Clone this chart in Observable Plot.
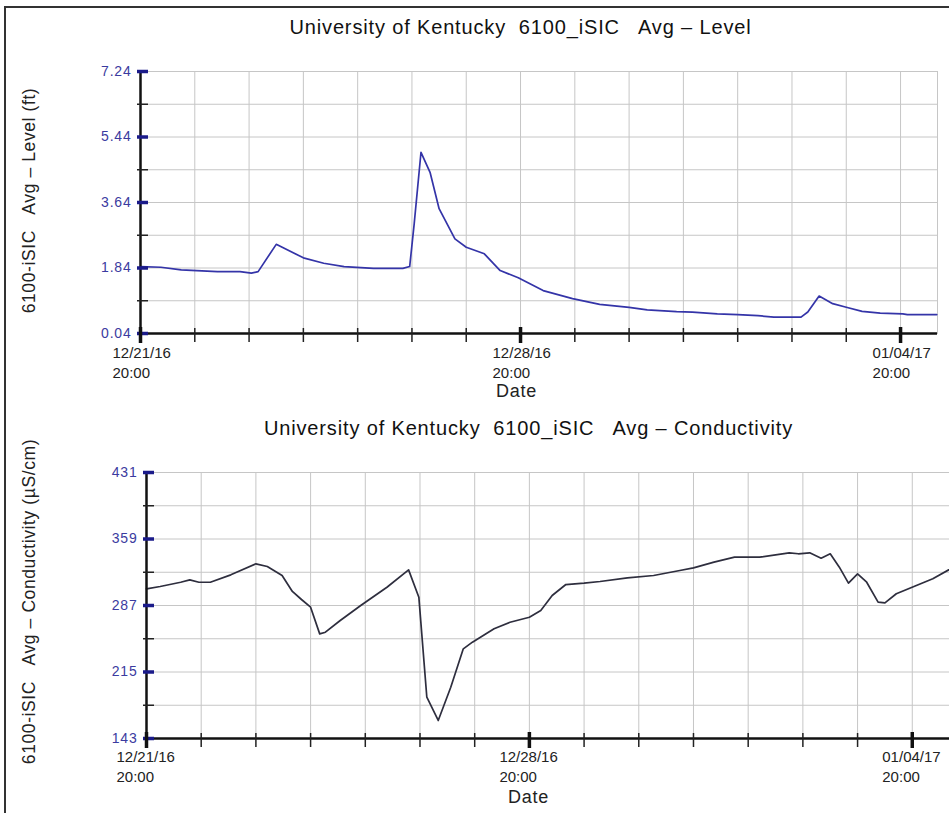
<!DOCTYPE html>
<html><head><meta charset="utf-8">
<script src="https://cdn.jsdelivr.net/npm/d3@7"></script>
<script src="https://cdn.jsdelivr.net/npm/@observablehq/plot@0.6"></script>
<style>
html,body{margin:0;padding:0;background:#fff;overflow:hidden;}
#page{position:relative;width:949px;height:813px;overflow:hidden;background:#fff;}
#border{position:absolute;left:4px;top:6px;width:1000px;height:900px;border:2px solid #333;box-sizing:border-box;}
.chart{position:absolute;left:0;}
svg text{white-space:pre;}
g[aria-label="y-axis tick label"] text{letter-spacing:0.8px;}
</style></head><body>
<div id="page"><div id="border"></div><div id="top" class="chart" style="top:0px"></div><div id="bot" class="chart" style="top:400px"></div></div>
<script>
// ---- data ----
const levelTimes = ["12/21/16 20:00","12/22/16 05:00","12/22/16 14:00","12/23/16 06:00","12/23/16 16:00","12/23/16 21:00","12/24/16 00:00","12/24/16 08:00","12/24/16 20:00","12/25/16 05:00","12/25/16 14:00","12/26/16 03:00","12/26/16 16:00","12/26/16 19:00","12/26/16 21:00","12/27/16 00:00","12/27/16 04:00","12/27/16 08:00","12/27/16 15:00","12/27/16 20:00","12/28/16 04:00","12/28/16 11:00","12/28/16 19:00","12/29/16 06:00","12/29/16 19:00","12/30/16 07:00","12/30/16 20:00","12/31/16 04:00","12/31/16 17:00","01/01/17 00:00","01/01/17 11:00","01/01/17 20:00","01/02/17 05:00","01/02/17 12:00","01/03/17 00:00","01/03/17 03:00","01/03/17 08:00","01/03/17 14:00","01/03/17 20:00","01/04/17 03:00","01/04/17 11:00","01/04/17 21:00","01/04/17 23:00","01/05/17 12:00"];
const levelValues = [1.88,1.86,1.79,1.74,1.74,1.70,1.74,2.49,2.12,1.97,1.88,1.83,1.83,1.88,3.06,5.02,4.47,3.47,2.64,2.41,2.23,1.77,1.57,1.22,1.00,0.84,0.76,0.69,0.64,0.63,0.58,0.56,0.53,0.49,0.49,0.63,1.07,0.86,0.76,0.65,0.60,0.58,0.56,0.56];

const condTimes = ["12/21/16 20:00","12/22/16 02:00","12/22/16 11:00","12/22/16 15:00","12/22/16 19:00","12/23/16 00:00","12/23/16 09:00","12/23/16 20:00","12/24/16 01:00","12/24/16 07:30","12/24/16 12:00","12/24/16 16:00","12/24/16 20:00","12/25/16 00:00","12/25/16 02:30","12/25/16 09:00","12/25/16 18:00","12/26/16 05:30","12/26/16 15:00","12/26/16 19:30","12/26/16 23:00","12/27/16 04:00","12/27/16 09:30","12/27/16 15:00","12/27/16 19:00","12/28/16 04:30","12/28/16 11:30","12/28/16 20:00","12/29/16 01:00","12/29/16 06:00","12/29/16 12:00","12/29/16 20:00","12/30/16 03:00","12/30/16 15:00","12/31/16 02:30","12/31/16 14:00","12/31/16 20:00","01/01/17 05:00","01/01/17 14:00","01/02/17 01:00","01/02/17 14:00","01/02/17 18:00","01/02/17 23:00","01/03/17 04:00","01/03/17 08:00","01/03/17 12:00","01/03/17 16:00","01/03/17 20:00","01/04/17 00:00","01/04/17 05:00","01/04/17 08:00","01/04/17 13:00","01/04/17 21:00","01/05/17 05:00","01/05/17 12:00"];
const condValues = [305,307.6,312.2,314.8,312.2,312.2,320.2,332.1,329.2,319.5,302.2,293.5,285.2,256.3,258.1,270.8,287.0,306.8,325.6,296,187.7,162.5,198.5,240.1,247.3,261.8,268.9,274.3,281.6,297.8,309.7,311.2,313,317,319.5,324.9,327.8,333.9,339.3,339.3,344.0,343.0,344.0,338.2,343.0,328.5,311.2,321.3,312.2,290.6,289.9,299.7,307.9,315.9,325.6];

const levelMajor = [0.04,1.84,3.64,5.44,7.24];
const levelMinor = [0.94,2.74,4.54,6.34];
const condMajor = [143,215,287,359,431];
const condMinor = [179,251,323,395];

const majorTickTimes = ["12/21/16 20:00","12/28/16 20:00","01/04/17 20:00"];
const majorTickLabels = ["12/21/16\n20:00","12/28/16\n20:00","01/04/17\n20:00"];
const domainTimes = ["12/21/16 20:00","01/05/17 12:20"];

const titleLevel = "University of Kentucky  6100_iSIC   Avg \u2013 Level";
const titleCond = "University of Kentucky  6100_iSIC   Avg \u2013 Conductivity";
const yLabelLevel = "6100-iSIC   Avg \u2013 Level (ft)";
const yLabelCond = "6100-iSIC   Avg \u2013 Conductivity (\u00b5S/cm)";
const xLabel = "Date";

// ---- chart ----
const parse = d3.timeParse("%m/%d/%y %H:%M");
const xDomain = domainTimes.map(parse);
const dayTicks = d3.range(15).map(i => d3.timeDay.offset(xDomain[0], i));
const majorTicks = majorTickTimes.map(parse);

const spacing = new Map([
  [titleLevel, "0.85px"], [titleCond, "0.85px"],
  [yLabelLevel, "0.6px"], [yLabelCond, "0.6px"],
  [xLabel, "0.8px"]
]);

function chart(o) {
  const data = o.times.map((t, i) => ({date: parse(t), value: o.values[i]}));
  const w = 949;
  const frameCx = (o.mL + (w - o.mR)) / 2;
  const svg = Plot.plot({
    width: w, height: o.height,
    marginLeft: o.mL, marginRight: o.mR, marginTop: o.mT, marginBottom: o.mB,
    style: {fontFamily: "'Liberation Sans', Arial, sans-serif", fontSize: "13px", background: "transparent", overflow: "visible", color: "#222"},
    x: {type: "time", domain: xDomain},
    y: {domain: [o.yMajor[0], o.yMajor[o.yMajor.length - 1]]},
    marks: [
      Plot.gridX({ticks: dayTicks, stroke: "#c6c6c6", strokeOpacity: 1, strokeWidth: 1}),
      Plot.gridY({ticks: [...o.yMajor, ...o.yMinor], stroke: "#c6c6c6", strokeOpacity: 1, strokeWidth: 1}),
      Plot.frame({stroke: "#c6c6c6"}),
      Plot.line(data, {x: "date", y: "value", stroke: o.lineColor, strokeWidth: 1.7}),
      Plot.ruleY([o.yMajor[0]], {stroke: "#111", strokeWidth: 2.5}),
      Plot.ruleX([xDomain[0]], {stroke: "#111", strokeWidth: 2.5}),
      Plot.axisY({ticks: o.yMinor, tickSize: 11, dx: 8, tickFormat: () => "", stroke: "#222", strokeWidth: 1.5, label: null}),
      Plot.axisY({ticks: o.yMajor, tickSize: 11, dx: 8, tickPadding: 6, tickFormat: o.fmt, stroke: "#1b1b8a", fill: "#3b3ba0", strokeWidth: 3.5, fontSize: 14, label: null}),
      Plot.axisX({ticks: dayTicks, tickSize: 14, dy: -5, tickFormat: () => "", stroke: "#222", strokeWidth: 1.5, label: null}),
      Plot.axisX({ticks: majorTicks, tickSize: 16, dy: -6, tickFormat: () => "", stroke: "#111", strokeWidth: 3.5, label: null}),
      Plot.text(majorTicks, {x: d => d, text: (d, i) => majorTickLabels[i], frameAnchor: "bottom", textAnchor: "start", lineAnchor: "top", dx: o.labelDx, dy: o.labelDy, fontSize: 15, lineHeight: 1.33, fill: "#222"}),
      Plot.text([xLabel], {frameAnchor: "bottom", lineAnchor: "middle", dx: o.dateCx - frameCx, dy: o.dateDy, fontSize: 18, fill: "#222"}),
      Plot.text([o.title], {frameAnchor: "top", lineAnchor: "middle", dx: o.titleCx - frameCx, dy: -44, fontSize: 20, fill: "#111"}),
      Plot.text([o.ylabel], {frameAnchor: "left", rotate: -90, lineAnchor: "middle", textAnchor: "middle", dx: 29 - o.mL, dy: o.ylabelDy, fontSize: 17.5, fill: "#222"})
    ]
  });
  svg.querySelectorAll("text").forEach(t => {
    const s = spacing.get(t.textContent);
    if (s) t.style.letterSpacing = s;
  });
  return svg;
}

document.getElementById("top").append(chart({
  times: levelTimes, values: levelValues, yMajor: levelMajor, yMinor: levelMinor,
  fmt: d => d.toFixed(2), title: titleLevel, ylabel: yLabelLevel, lineColor: "#3434a8",
  mL: 140, mR: 12, mT: 71, mB: 67, height: 400,
  labelDx: -28, labelDy: 10, dateCx: 516, dateDy: 58, titleCx: 520, ylabelDy: -2
}));
document.getElementById("bot").append(chart({
  times: condTimes, values: condValues, yMajor: condMajor, yMinor: condMinor,
  fmt: d => String(d), title: titleCond, ylabel: yLabelCond, lineColor: "#2e2e3e",
  mL: 146, mR: 0, mT: 72, mB: 75, height: 413,
  labelDx: -30, labelDy: 9, dateCx: 528, dateDy: 59, titleCx: 528, ylabelDy: -4
}));
</script>
</body></html>
